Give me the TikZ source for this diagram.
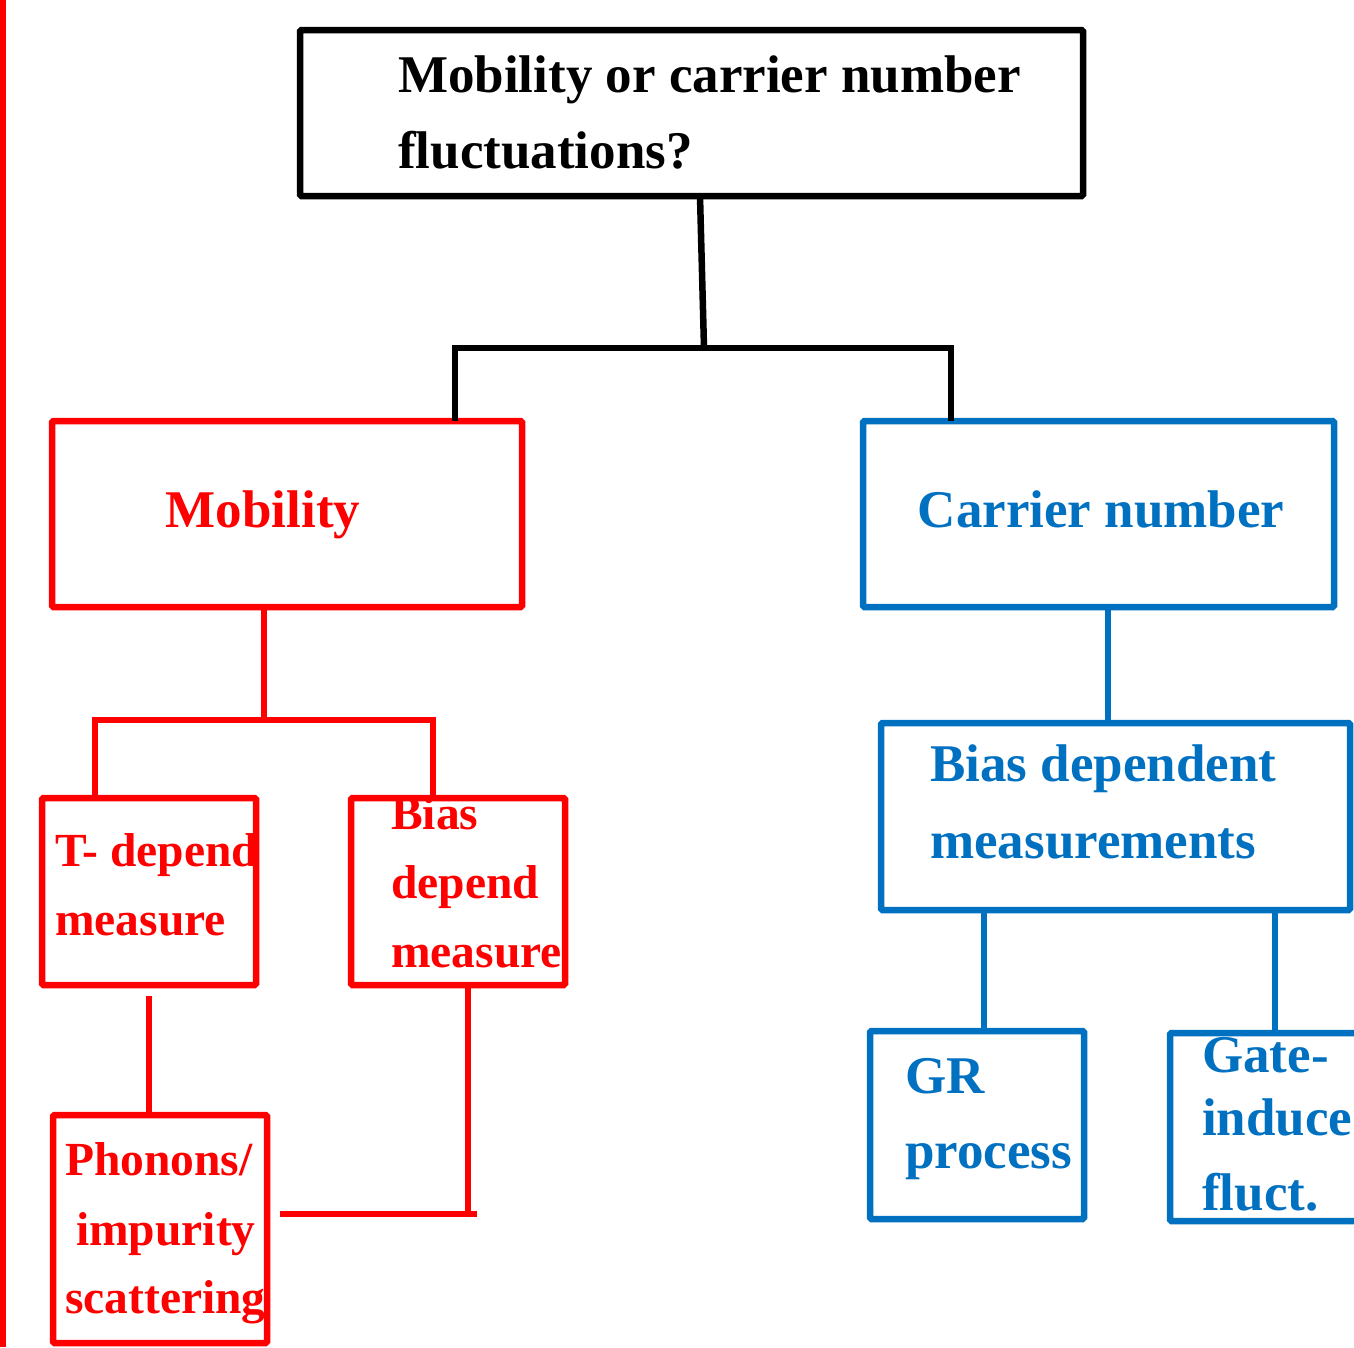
\documentclass[tikz,border=0pt]{standalone}
\usepackage{fontspec}
\setmainfont{Liberation Serif}
\definecolor{myred}{RGB}{255,0,0}
\definecolor{myblue}{RGB}{0,112,192}
\begin{document}
\begin{tikzpicture}[x=1pt,y=-1pt,
  box/.style={draw, line width=6.5pt, rounded corners=1.5pt, inner sep=0pt, outer sep=0pt, anchor=north west},
  big/.style={anchor=base west, inner sep=0pt, font=\bfseries\fontsize{53}{60}\selectfont},
  small/.style={anchor=base west, inner sep=0pt, font=\bfseries\fontsize{47.5}{54}\selectfont},
  link/.style={line width=6.5pt}]
\useasboundingbox (0,0) rectangle (1354,1347);
\fill[white] (0,0) rectangle (1354,1347);
% left red rule
\coordinate (ra) at (3,0);
\coordinate (rb) at (3,1347);
\draw[myred, line width=5.5pt] (ra) -- (rb);

% top box
\node[box, black, minimum width=783pt, minimum height=166pt] (top) at (300,30) {};
\node[big] (top1) at (398,92) {Mobility or carrier number};
\node[big] (top2) at (398,168) {fluctuations?};

% level 2
\node[box, myred, minimum width=470pt, minimum height=186pt] (mob) at (52,421) {};
\node[big, anchor=base, text=myred] (mobt) at (263,527) {Mobility};
\node[box, myblue, minimum width=471pt, minimum height=186pt] (car) at (863,421) {};
\node[big, anchor=base, text=myblue] (cart) at (1101,527) {Carrier number};

\coordinate (j1) at (704,348);
\draw[link] ([xshift=8.5pt]top.south) -- (j1);
\draw[link] ([xshift=168pt]mob.north) |- (j1) -| ([xshift=-147.5pt]car.north);

% red branch
\node[box, myred, minimum width=214pt, minimum height=187pt] (td) at (42,798) {};
\node[small, text=myred] (td1) at (55,866) {T- depend};
\node[small, text=myred] (td2) at (55,935) {measure};
\node[box, myred, minimum width=214pt, minimum height=187pt] (bd) at (351,798) {};
\node[small, text=myred] (bd1) at (391,829) {Bias};
\node[small, text=myred] (bd2) at (391,898) {depend};
\node[small, text=myred] (bd3) at (391,967) {measure};
\node[box, myred, minimum width=214pt, minimum height=228pt] (ph) at (53,1115) {};
\node[small, text=myred] (ph1) at (65,1175) {Phonons/};
\node[small, text=myred] (ph2) at (76,1245) {impurity};
\node[small, text=myred] (ph3) at (65,1313) {scattering};

\coordinate (j2) at (264,720);
\draw[link, myred] ([xshift=-23pt]mob.south) -- (j2);
\draw[link, myred] ([xshift=-54pt]td.north) |- (j2) -| ([xshift=-25pt]bd.north);
\draw[link, myred] ([yshift=-11pt]td.south) -- (td.south |- ph.north);
\coordinate (j3) at (468,1214);
\draw[link, myred] ([xshift=10pt]bd.south) -- (j3);
\draw[link, myred] ([xshift=9pt]j3) -- ([xshift=13pt]ph.east |- j3);

% blue branch
\node[box, myblue, minimum width=469pt, minimum height=187pt] (bm) at (881,723) {};
\node[big, text=myblue] (bm1) at (930,781) {Bias dependent};
\node[big, text=myblue] (bm2) at (930,858) {measurements};
\draw[link, myblue] ([xshift=9.5pt]car.south) -- ([xshift=9.5pt]car.south |- bm.north);

\node[box, myblue, minimum width=214pt, minimum height=188pt] (gr) at (870,1031) {};
\node[big, text=myblue] (gr1) at (905,1093) {GR};
\node[big, text=myblue] (gr2) at (905,1168) {process};
\node[box, myblue, minimum width=214pt, minimum height=188pt] (gi) at (1170,1033) {};
\node[big, text=myblue] (gi1) at (1202,1072) {Gate-};
\node[big, text=myblue] (gi2) at (1202,1135) {induce};
\node[big, text=myblue] (gi3) at (1202,1210) {fluct.};

\coordinate (b1) at (984,911);
\coordinate (b2) at (1275,911);
\draw[link, myblue] (bm.south -| b1) -- (b1 |- gr.north);
\draw[link, myblue] (bm.south -| b2) -- (b2 |- gi.north);
\end{tikzpicture}
\end{document}
